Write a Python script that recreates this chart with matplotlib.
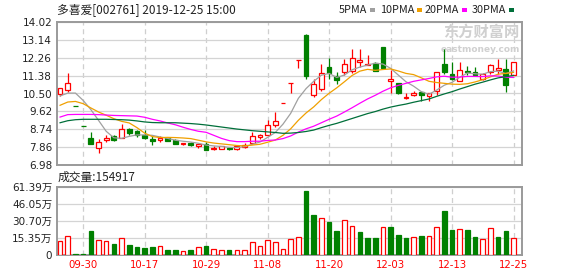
import matplotlib
matplotlib.use("Agg")
import matplotlib.pyplot as plt
import numpy as np

# ---------------- data ----------------
dates = ["09-25", "09-26", "09-27", "09-30",
         "10-08", "10-09", "10-10", "10-11", "10-14", "10-15", "10-16", "10-17", "10-18",
         "10-21", "10-22", "10-23", "10-24", "10-25", "10-28", "10-29", "10-30", "10-31",
         "11-01", "11-04", "11-05", "11-06", "11-07", "11-08", "11-11", "11-12", "11-13",
         "11-14", "11-15", "11-18", "11-19", "11-20", "11-21", "11-25", "11-26", "11-27",
         "11-28", "11-29", "12-02", "12-03", "12-04", "12-05", "12-06", "12-09", "12-10",
         "12-11", "12-12", "12-13", "12-16", "12-17", "12-18", "12-19", "12-20", "12-23",
         "12-24", "12-25"]

opens = [10.46, 10.66, 9.87, 8.88, 8.33, 7.83, 8.21, 8.39, 8.33, 8.74,
         8.67, 8.47, 8.28, 8.19, 8.31, 8.19, 8.01, 8.08, 7.92, 8.03,
         7.77, 7.78, 7.80, 7.78, 7.87, 8.08, 8.36, 8.47, 8.97, 10.04,
         11.04, 12.14, 13.40, 10.41, 10.74, 11.80, 11.36, 11.57, 11.62, 12.07,
         11.92, 11.98, 12.79, 11.13, 11.00, 10.30, 10.41, 10.57, 10.38, 10.62,
         11.95, 11.48, 11.13, 11.59, 11.56, 11.23, 11.56, 11.67, 11.72, 11.39]
highs = [10.75, 11.51, 9.87, 8.88, 8.60, 8.24, 8.47, 8.47, 9.02, 8.80,
         8.72, 8.69, 8.41, 8.39, 8.36, 8.24, 8.06, 8.11, 8.01, 8.11,
         7.92, 7.92, 7.82, 7.95, 8.08, 8.60, 8.52, 9.18, 9.59, 10.04,
         11.04, 12.14, 13.45, 11.23, 11.94, 12.25, 11.56, 12.18, 12.67, 12.67,
         12.41, 12.05, 12.79, 11.64, 11.00, 10.54, 10.60, 10.61, 10.54, 11.56,
         12.67, 12.05, 12.05, 11.85, 11.80, 11.53, 11.97, 12.21, 12.21, 12.05]
lows = [10.38, 10.57, 9.87, 8.88, 8.03, 7.57, 8.11, 8.16, 8.33, 8.47,
        8.37, 8.24, 7.98, 8.10, 8.15, 8.01, 7.98, 7.92, 7.82, 7.74,
        7.70, 7.78, 7.74, 7.72, 7.83, 8.03, 8.28, 8.44, 8.85, 10.04,
        10.54, 11.77, 11.23, 10.34, 10.62, 11.23, 10.95, 11.39, 11.53, 11.80,
        11.89, 11.59, 11.72, 10.54, 10.48, 10.25, 10.38, 10.11, 10.15, 10.44,
        11.48, 11.15, 11.10, 11.43, 11.34, 11.15, 11.48, 11.44, 10.57, 11.39]
closes = [10.75, 11.00, 9.87, 8.88, 8.03, 8.11, 8.33, 8.23, 8.74, 8.56,
          8.44, 8.33, 8.15, 8.33, 8.18, 8.03, 8.06, 7.95, 8.01, 7.74,
          7.83, 7.92, 7.77, 7.92, 7.98, 8.41, 8.46, 8.93, 9.13, 10.04,
          11.04, 12.14, 11.35, 10.95, 11.51, 11.51, 11.15, 11.95, 12.25, 12.16,
          11.97, 11.62, 11.75, 11.20, 10.51, 10.33, 10.52, 10.41, 10.51, 11.56,
          11.56, 11.23, 11.64, 11.54, 11.39, 11.44, 11.89, 11.75, 10.93, 12.05]

ma5 = [10.38, 10.52, 10.52, 10.16, 9.71, 9.18, 8.64, 8.32, 8.29, 8.39,
       8.46, 8.46, 8.44, 8.36, 8.29, 8.20, 8.15, 8.11, 8.05, 7.96,
       7.92, 7.89, 7.85, 7.84, 7.88, 8.00, 8.11, 8.34, 8.58, 8.99,
       9.52, 10.26, 10.74, 11.10, 11.40, 11.49, 11.29, 11.41, 11.67, 11.80,
       11.90, 11.99, 11.95, 11.74, 11.41, 11.08, 10.86, 10.59, 10.46, 10.67,
       10.91, 11.05, 11.30, 11.51, 11.47, 11.45, 11.58, 11.60, 11.48, 11.61]
ma10 = [9.92, 10.08, 10.11, 10.00, 9.79, 9.59, 9.43, 9.26, 9.13, 9.05,
        8.82, 8.55, 8.38, 8.33, 8.34, 8.33, 8.31, 8.28, 8.20, 8.12,
        8.06, 8.02, 7.98, 7.94, 7.92, 7.96, 8.00, 8.10, 8.21, 8.44,
        8.76, 9.18, 9.54, 9.84, 10.20, 10.51, 10.78, 11.08, 11.39, 11.60,
        11.69, 11.64, 11.68, 11.71, 11.61, 11.49, 11.43, 11.27, 11.10, 11.04,
        11.00, 10.96, 10.95, 10.98, 11.07, 11.18, 11.32, 11.45, 11.49, 11.54]
ma20 = [9.34, 9.46, 9.47, 9.47, 9.47, 9.46, 9.44, 9.42, 9.41, 9.40,
        9.39, 9.33, 9.23, 9.15, 9.05, 8.96, 8.84, 8.73, 8.64, 8.59,
        8.44, 8.29, 8.18, 8.13, 8.13, 8.15, 8.15, 8.19, 8.21, 8.28,
        8.41, 8.60, 8.76, 8.89, 9.06, 9.23, 9.39, 9.59, 9.80, 10.02,
        10.23, 10.41, 10.61, 10.78, 10.90, 11.00, 11.10, 11.17, 11.24, 11.32,
        11.35, 11.30, 11.31, 11.34, 11.34, 11.33, 11.37, 11.36, 11.30, 11.29]
ma30 = [9.06, 9.16, 9.21, 9.23, 9.23, 9.23, 9.23, 9.22, 9.21, 9.19,
        9.15, 9.10, 9.07, 9.06, 9.06, 9.06, 9.04, 9.02, 8.99, 8.95,
        8.90, 8.85, 8.80, 8.75, 8.71, 8.67, 8.64, 8.61, 8.58, 8.54,
        8.55, 8.58, 8.63, 8.70, 8.82, 8.93, 9.03, 9.15, 9.27, 9.39,
        9.51, 9.61, 9.73, 9.83, 9.91, 9.98, 10.07, 10.15, 10.23, 10.36,
        10.48, 10.59, 10.72, 10.84, 10.96, 11.06, 11.17, 11.27, 11.33, 11.39]

# volume in 万
volumes = [12.6, 17.1, 0.9, 0.9, 21.6, 13.2, 12.6, 9.9, 15.0, 9.0,
           7.2, 6.3, 7.2, 8.1, 4.5, 4.5, 3.3, 4.5, 6.9, 8.1,
           5.1, 4.5, 4.5, 4.5, 4.5, 11.4, 8.1, 13.2, 11.4, 5.1,
           14.1, 15.9, 57.5, 35.9, 33.8, 29.7, 21.6, 32.0, 25.8, 20.7,
           15.3, 15.3, 25.2, 25.2, 18.0, 15.3, 16.2, 17.1, 17.1, 25.2,
           39.5, 22.5, 23.4, 22.5, 16.2, 14.4, 24.3, 16.2, 21.6, 15.49]

price_ticks = ["6.98", "7.86", "8.74", "9.62", "10.50", "11.38", "12.26", "13.14", "14.02"]
vol_ticks = ["0", "15.35万", "30.70万", "46.05万", "61.39万"]
date_ticks = ["09-30", "10-17", "10-29", "11-08", "11-20", "12-03", "12-13", "12-25"]
title = "多喜爱[002761] 2019-12-25 15:00"
vol_label = "成交量:154917"
ma_names = ["5PMA", "10PMA", "20PMA", "30PMA"]

# ---------------- style ----------------
RED = "#ff0000"
GREEN = "#008000"
MA_COLORS = ["#a0a0a0", "#f0a000", "#ff00ff", "#006f3a"]
GRID = "#d4d4d4"
SPINE = "#9a9a9a"
TXT = "#222222"
FAM = ["DejaVu Sans", "Noto Sans CJK SC"]
CJK = ["Noto Sans CJK SC", "DejaVu Sans"]
plt.rcParams["font.family"] = FAM

W, H = 578, 276
fig = plt.figure(figsize=(W / 100, H / 100), dpi=100)
fig.patch.set_facecolor("white")


def rect(l, t, r, b):
    return [l / W, 1 - b / H, (r - l) / W, (b - t) / H]


axp = fig.add_axes(rect(57, 22, 522, 165))
axv = fig.add_axes(rect(57, 187, 522, 255))

n = len(dates)
x = np.arange(n)
o = np.array(opens); c = np.array(closes)
hi = np.array(highs); lo = np.array(lows)

cc = []
for i in range(n):
    if c[i] > o[i]:
        cc.append(RED)
    elif c[i] < o[i]:
        cc.append(GREEN)
    else:
        prev = c[i - 1] if i > 0 else o[i]
        cc.append(RED if c[i] >= prev else GREEN)
face = ["white" if col == RED else GREEN for col in cc]

vc = [RED]
for i in range(1, n):
    vc.append(RED if c[i] > c[i - 1] else GREEN)
vface = ["white" if col == RED else GREEN for col in vc]

xlim = (-0.4, n + 0.1)
tick_pos = [dates.index(d) for d in date_ticks]

for ax in (axp, axv):
    ax.set_xlim(*xlim)
    for s in ax.spines.values():
        s.set_color(SPINE)
        s.set_linewidth(1.4)
    for p in tick_pos:
        ax.axvline(p, color="#cfcfcf", lw=0.9, ls=(0, (4, 3)), zorder=0)
    ax.tick_params(length=0, colors=TXT, labelsize=7.5, pad=3.5)

# price panel
ymin, ymax = float(price_ticks[0]), float(price_ticks[-1])
axp.set_ylim(ymin, ymax)
axp.set_yticks([float(t) for t in price_ticks])
axp.set_yticklabels(price_ticks)
axp.grid(axis="y", color=GRID, lw=0.9, ls="-")
axp.set_axisbelow(True)
axp.set_xticks([])

axp.vlines(x, lo, hi, colors=cc, lw=0.9, zorder=3)
axp.bar(x, c - o, bottom=o, width=0.62, color=face, edgecolor=cc, linewidth=0.9, zorder=4)
for series, col in zip([ma5, ma10, ma20, ma30], MA_COLORS):
    axp.plot(x, series, color=col, lw=0.9, zorder=5)

# watermark
axp.text(0.995, 0.985, "东方财富网", transform=axp.transAxes, ha="right", va="top",
         fontsize=11, fontweight="bold", color="#d0d0d0", family=CJK, zorder=1)
axp.text(0.995, 0.84, "eastmoney.com", transform=axp.transAxes, ha="right", va="top",
         fontsize=6.5, fontweight="bold", color="#d0d0d0", zorder=1)

# volume panel
vmax = float(vol_ticks[-1].replace("万", ""))
axv.set_ylim(0, vmax)
axv.set_yticks(np.linspace(0, vmax, len(vol_ticks)))
axv.set_yticklabels(vol_ticks)
axv.grid(axis="y", color=GRID, lw=0.9, ls="-")
axv.set_axisbelow(True)
axv.bar(x, volumes, width=0.6, color=vface, edgecolor=vc, linewidth=0.9, zorder=3)
axv.set_xticks(tick_pos)
axv.set_xticklabels(date_ticks, color=RED, fontsize=7.3)

# texts
fig.text(57 / W, 1 - 10 / H, title, ha="left", va="center", fontsize=8.5, color=TXT, family=CJK)
fig.text(58 / W, 1 - 177 / H, vol_label, ha="left", va="center", fontsize=8.5, color=TXT, family=CJK)

# legend
lx = [339, 380, 425, 472]
for name, col, px in zip(ma_names, MA_COLORS, lx):
    t = fig.text(px / W, 1 - 10 / H, name, ha="left", va="center", fontsize=7.8, color=TXT, family=CJK)
fig.canvas.draw()
rend = fig.canvas.get_renderer()
for txt in fig.texts[2:]:
    bb = txt.get_window_extent(rend)
    col = MA_COLORS[[t.get_text() for t in fig.texts[2:]].index(txt.get_text())]
    fig.patches.append(plt.Rectangle(((bb.x1 + 3) / W, (bb.y0 + bb.height / 2 - 1.5) / H), 5 / W, 3 / H,
                                     transform=fig.transFigure, facecolor=col, edgecolor="none"))

fig.savefig("out.png", dpi=100)
